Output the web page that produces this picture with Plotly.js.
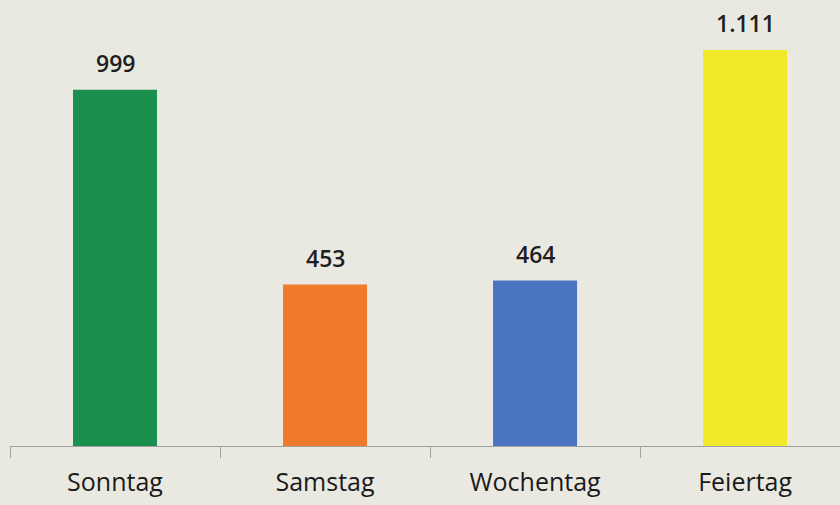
<!DOCTYPE html>
<html><head><meta charset="utf-8">
<script src="https://cdn.plot.ly/plotly-3.0.1.min.js"></script>
<style>html,body{margin:0;padding:0;background:#e9e9e1;}</style>
</head><body>
<div id="chart" style="width:840px;height:505px;"></div>
<script>
const categories = ["Sonntag", "Samstag", "Wochentag", "Feiertag"];
const values = [999, 453, 464, 1111];
const valueLabels = ["999", "453", "464", "1.111"];
const barColors = ["#1a8f4e", "#f07a2c", "#4a74bf", "#f0ea2a"];

const annotations = categories.map((c, i) => ({
  x: c, y: values[i], text: valueLabels[i],
  showarrow: false, yanchor: "bottom", yshift: 9,
  font: {family: "Open Sans", size: 23, color: "#1e1e1e", weight: 600}
}));

Plotly.newPlot("chart", [{
  type: "bar",
  x: categories,
  y: values,
  marker: {color: barColors},
  hoverinfo: "none"
}], {
  width: 840, height: 505,
  margin: {l: 10, r: 0, t: 0, b: 59},
  paper_bgcolor: "#e9e9e1",
  plot_bgcolor: "#e9e9e1",
  bargap: 0.6,
  showlegend: false,
  annotations: annotations,
  xaxis: {
    range: [-0.5, 3.452],
    showline: true, linecolor: "#a0a0a0", linewidth: 1,
    ticks: "outside", tickson: "boundaries", ticklen: 11, tickcolor: "#a0a0a0",
    ticklabelstandoff: 14,
    tickfont: {family: "Open Sans", size: 25, color: "#1a1a1a"},
    showgrid: false, zeroline: false
  },
  yaxis: {
    range: [0, 1251],
    visible: false, showgrid: false, zeroline: false
  }
}, {staticPlot: true});
</script>
</body></html>
